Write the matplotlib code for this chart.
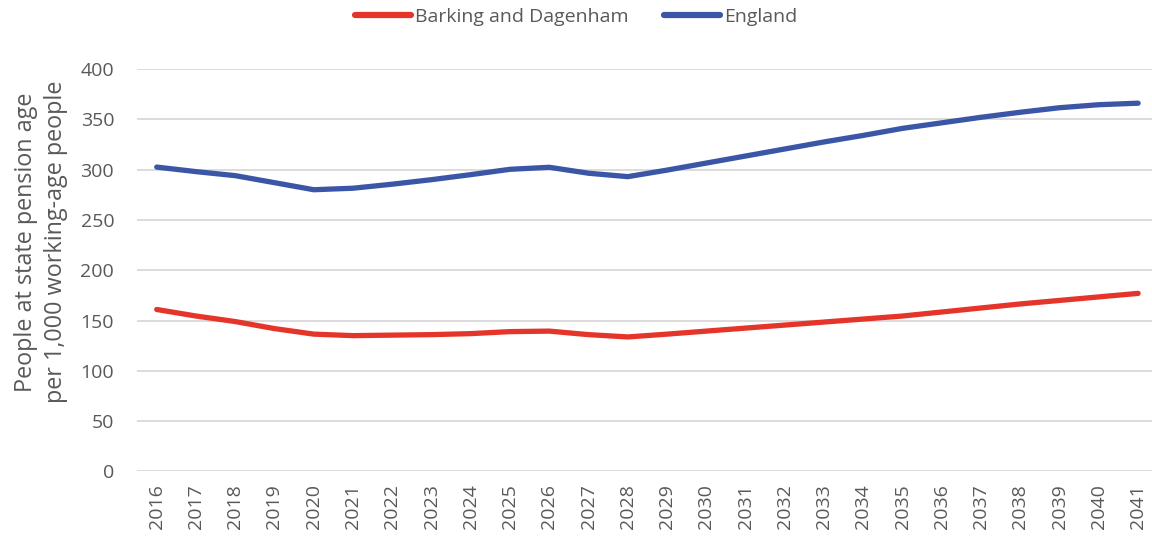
import matplotlib
matplotlib.use('Agg')
from matplotlib import pyplot as plt

years = list(range(2016, 2042))
barking = [161, 154.5, 149, 142, 136.5, 135, 135.5, 136, 137, 139, 139.5,
           136, 133.7, 136.5, 139.5, 142.5, 145.5, 148.5, 151.5, 154.5,
           158.5, 162.5, 166.5, 170, 173.5, 177]
england = [302.5, 298, 294, 287, 280, 281.5, 285.5, 290, 295, 300.3, 302.3,
           296.4, 293, 299.5, 306.5, 313.5, 320.5, 327.5, 334, 341,
           346.5, 352, 357, 361.5, 364.5, 366]
y_ticks = list(range(0, 401, 50))

RED = '#E5352A'
BLUE = '#3B56A6'
GREY = '#595959'

plt.rcParams['font.family'] = ['Open Sans', 'DejaVu Sans']

fig = plt.figure(figsize=(11.52, 5.41), dpi=100)
ax = fig.add_axes([0.119, 0.1285, 0.886, 0.744])

x = list(range(len(years)))
ax.plot(x, barking, color=RED, lw=3.8, solid_capstyle='round',
        label='Barking and Dagenham', zorder=3)
ax.plot(x, england, color=BLUE, lw=3.8, solid_capstyle='round',
        label='England', zorder=3)

ax.set_xlim(-0.5, len(years) - 0.5)
ax.set_ylim(0, 400)
ax.set_yticks(y_ticks)
ax.set_xticks(x)
ax.set_xticklabels([str(y) for y in years], rotation=90)
ax.tick_params(axis='both', length=0, labelsize=14, labelcolor=GREY)
ax.tick_params(axis='y', pad=16.5)
ax.tick_params(axis='x', pad=9)

ax.grid(axis='y', color='#D9D9D9', lw=1.3)
ax.set_axisbelow(True)
for s in ax.spines.values():
    s.set_visible(False)

ax.set_ylabel('People at state pension age\nper 1,000 working-age people',
              fontsize=16.8, color=GREY, linespacing=1.3)
ax.yaxis.set_label_coords(-0.068, 0.57)

leg = fig.legend(loc='center', bbox_to_anchor=(0.5, 1 - 16.5 / 541), ncol=2,
                 frameon=False, fontsize=14, handlelength=2.9,
                 handletextpad=0.2, columnspacing=1.8, borderaxespad=0)
for t in leg.get_texts():
    t.set_color(GREY)
for h in leg.get_lines():
    h.set_linewidth(4.5)
    h.set_solid_capstyle('round')

fig.savefig('out.png', dpi=100)
